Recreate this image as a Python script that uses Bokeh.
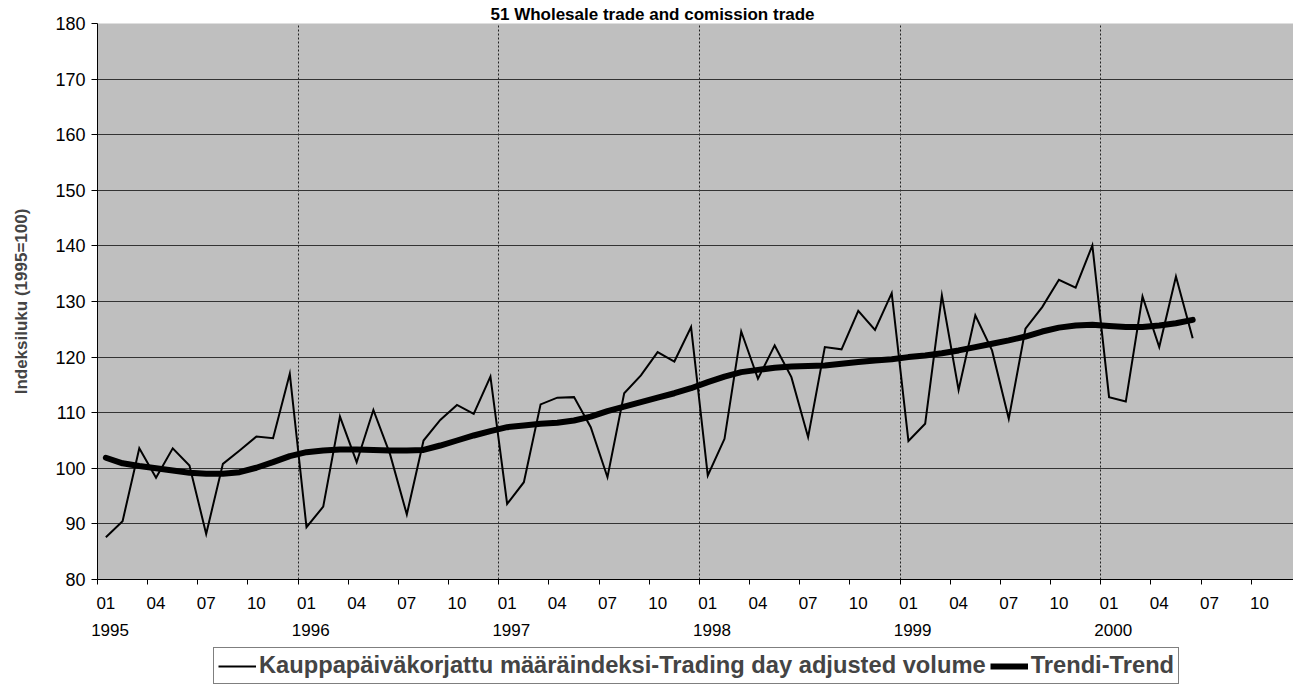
import numpy as np
from bokeh.plotting import figure
from bokeh.layouts import column
from bokeh.models import Range1d, LinearAxis, FixedTicker, Legend, LegendItem
from bokeh.embed import file_html
from bokeh.resources import INLINE

title_text = "51 Wholesale trade and comission trade"
y_title = "Indeksiluku (1995=100)"
series_names = ["Kauppapäiväkorjattu määräindeksi-Trading day adjusted volume", "Trendi-Trend"]
years = ["1995", "1996", "1997", "1998", "1999", "2000"]
month_labels = ["01", "04", "07", "10"]

volume = [
    87.6, 90.5, 103.6, 98.3, 103.6, 100.5, 88.2, 100.8, 103.2, 105.7, 105.4, 117.0,
    89.4, 93.1, 109.3, 101.1, 110.5, 102.5, 91.7, 105.0, 108.7, 111.4, 109.8, 116.5,
    93.6, 97.5, 111.5, 112.7, 112.8, 107.4, 98.4, 113.5, 116.7, 120.9, 119.2, 125.4,
    98.7, 105.3, 124.6, 116.1, 122.1, 116.4, 105.6, 121.8, 121.4, 128.3, 124.9, 131.5,
    104.9, 108.0, 131.1, 114.1, 127.5, 121.2, 108.9, 125.1, 129.0, 133.9, 132.5, 140.1,
    112.8, 112.0, 130.9, 121.8, 134.5, 123.4,
]
trend = [
    101.9, 100.9, 100.4, 100.0, 99.6, 99.2, 99.0, 99.0, 99.3, 100.1, 101.1, 102.2,
    102.9, 103.2, 103.4, 103.4, 103.3, 103.2, 103.2, 103.3, 104.1, 105.0, 105.9, 106.7,
    107.4, 107.7, 108.0, 108.2, 108.6, 109.3, 110.3, 111.1, 111.9, 112.7, 113.5, 114.4,
    115.5, 116.5, 117.3, 117.7, 118.1, 118.3, 118.4, 118.5, 118.8, 119.1, 119.4, 119.6,
    120.0, 120.3, 120.7, 121.2, 121.8, 122.4, 123.0, 123.7, 124.6, 125.3, 125.7, 125.8,
    125.6, 125.4, 125.4, 125.7, 126.1, 126.7,
]

n_cat = 72
x = np.arange(len(volume)) + 0.5
FONT = "Liberation Sans"

p = figure(width=1293, height=645, output_backend="svg", toolbar_location=None,
           x_range=Range1d(0, 71.53), y_range=Range1d(80, 180),
           min_border_left=97, min_border_top=23, min_border_right=0, min_border_bottom=66)
p.background_fill_color = "#bfbfbf"
p.border_fill_color = "white"
p.outline_line_color = None

# title
p.title.text = title_text
p.title.align = "left"
p.title.offset = 393
p.title.standoff = 0
p.title.text_font = FONT
p.title.text_font_style = "bold"
p.title.text_font_size = "17px"
p.title.text_color = "black"

# grids
p.ygrid.ticker = FixedTicker(ticks=list(range(80, 181, 10)))
p.ygrid.grid_line_color = "#333333"
p.ygrid.grid_line_width = 1
p.xgrid.ticker = FixedTicker(ticks=list(range(12, n_cat, 12)))
p.xgrid.grid_line_color = "#222222"
p.xgrid.grid_line_dash = "2 2"
p.xgrid.grid_line_width = 1

# y axis
ya = p.yaxis[0]
ya.ticker = FixedTicker(ticks=list(range(80, 181, 10)))
ya.major_tick_out = 6
ya.major_tick_in = 0
ya.minor_tick_line_color = None
ya.axis_line_color = "black"
ya.major_tick_line_color = "black"
ya.major_label_standoff = 6
ya.major_label_text_font = FONT
ya.major_label_text_font_size = "18px"
ya.major_label_text_color = "black"
ya.axis_label = y_title
ya.axis_label_text_font = FONT
ya.axis_label_text_font_style = "bold"
ya.axis_label_text_font_size = "17px"
ya.axis_label_standoff = 21

# x axis: tick marks at category boundaries
xa = p.xaxis[0]
bound_ticks = list(range(0, n_cat + 1, 3))
xa.ticker = FixedTicker(ticks=bound_ticks)
xa.major_label_overrides = {t: "" for t in bound_ticks}
xa.major_label_text_font_size = "1px"
xa.major_label_standoff = 0
xa.major_tick_out = 5
xa.major_tick_in = 0
xa.minor_tick_line_color = None
xa.axis_line_color = "black"
xa.major_tick_line_color = "black"

# month labels at category centres
month_ticks = [k * 3 + 0.5 for k in range(n_cat // 3)]
month_axis = LinearAxis(ticker=FixedTicker(ticks=month_ticks),
                        major_label_overrides={t: month_labels[k % 4] for k, t in enumerate(month_ticks)})
# year labels
year_ticks = [k * 12 + 0.75 for k in range(len(years))]
year_axis = LinearAxis(ticker=FixedTicker(ticks=year_ticks),
                       major_label_overrides={t: years[k] for k, t in enumerate(year_ticks)})
for ax, so in ((month_axis, 12), (year_axis, 12)):
    ax.axis_line_color = None
    ax.major_tick_line_color = None
    ax.minor_tick_line_color = None
    ax.major_tick_out = 0
    ax.major_tick_in = 0
    ax.major_label_standoff = so
    ax.major_label_text_font = FONT
    ax.major_label_text_font_size = "17px"
    ax.major_label_text_color = "black"
    p.add_layout(ax, "below")

p.line(x, volume, line_color="black", line_width=2, line_join="miter")
p.line(x, trend, line_color="black", line_width=6, line_join="round", line_cap="round")

# legend strip below the chart (same series; lines fall outside its empty range)
lg = figure(width=1293, height=40, output_backend="svg", toolbar_location=None,
            x_range=Range1d(0, 71.53), y_range=Range1d(0, 1),
            x_axis_location=None, y_axis_location=None,
            min_border_left=0, min_border_right=0, min_border_top=0, min_border_bottom=0)
lg.outline_line_color = None
lg.background_fill_color = "white"
lg.border_fill_color = "white"
lg.xgrid.visible = False
lg.ygrid.visible = False
r1 = lg.line(x, volume, line_color="black", line_width=2)
r2 = lg.line(x, trend, line_color="black", line_width=6)

legend = Legend(items=[LegendItem(label=series_names[0], renderers=[r1]),
                       LegendItem(label=series_names[1], renderers=[r2])],
                orientation="horizontal", location=(116, 1))
legend.border_line_color = "black"
legend.border_line_width = 1
legend.background_fill_color = "white"
legend.background_fill_alpha = 1.0
legend.padding = 4
legend.spacing = 4
legend.margin = 0
legend.glyph_width = 38
legend.glyph_height = 26
legend.label_height = 26
legend.label_standoff = 3
legend.label_text_font = FONT
legend.label_text_font_style = "bold"
legend.label_text_font_size = "23.7px"
lg.add_layout(legend, "center")

layout = column(p, lg, spacing=0)
open("out.html", "w").write(file_html(layout, INLINE))
